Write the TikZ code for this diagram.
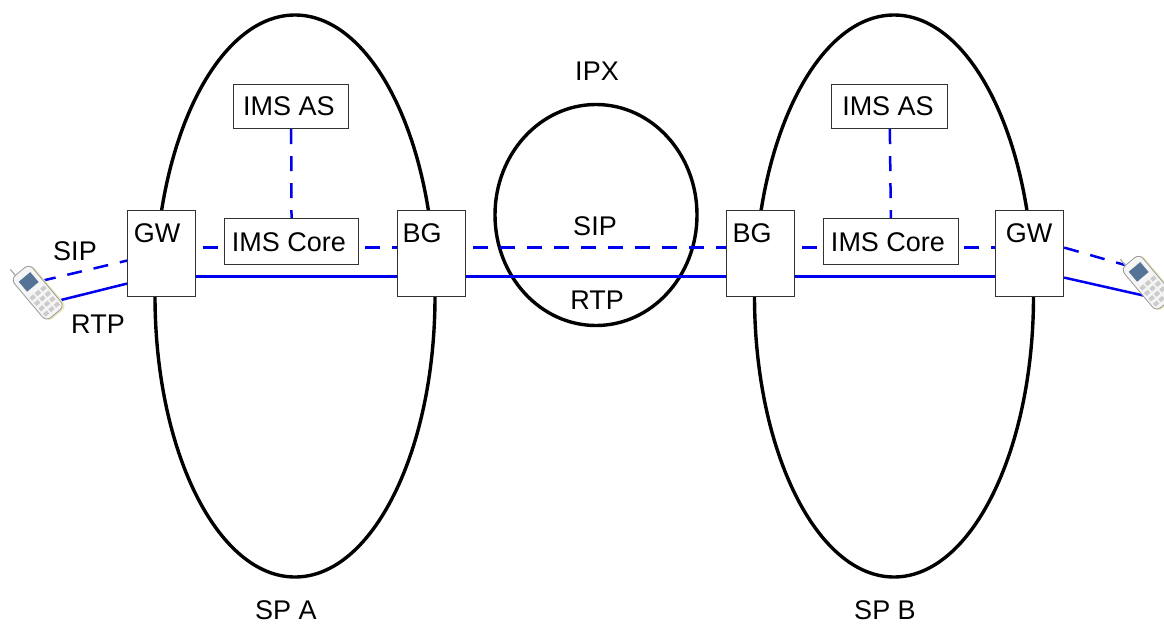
\documentclass[tikz,border=0pt]{standalone}
\usepackage{fontspec}
\setmainfont{Liberation Sans}
\usetikzlibrary{shapes.geometric,backgrounds,calc}
\definecolor{sigblue}{RGB}{0,0,240}
\definecolor{boxline}{RGB}{50,50,50}
\definecolor{phonescreen}{RGB}{85,115,150}
\tikzset{
  x=1pt,y=-1pt,
  spdomain/.style={draw=black,line width=3.4pt,ellipse,inner sep=0pt,fill=none},
  netbox/.style={draw=boxline,line width=1.2pt,fill=white,inner sep=0pt,anchor=north west},
  tallbox/.style={netbox,minimum width=68pt,minimum height=86pt},
  lbl/.style={inner sep=0pt,font=\fontsize{27}{30}\selectfont,text=black},
  sigline/.style={draw=sigblue,line width=2.5pt,dash pattern=on 15pt off 12pt},
  sighoriz/.style={sigline,dash phase=20pt},
  medialine/.style={draw=sigblue,line width=2.5pt},
  phonebody/.style={draw=black!40,fill=black!4,line width=0.8pt},
  phonepart/.style={fill=black!20,draw=none},
}
\newcommand{\mobile}[3]{%
  \begin{scope}[shift={(#1,#2)},rotate=#3]
    \draw[black!35,line width=1.2pt] (-6,-27) -- (-6,-36);
    \fill[black!30!yellow!30!white,rounded corners=6pt] (-11,-27) rectangle (13.5,29);
    \draw[phonebody,rounded corners=6pt] (-12,-28) rectangle (12,27);
    \fill[phonescreen] (-7.5,-21) rectangle (7.5,-8);
    \foreach \px in {-7,0,7}{\foreach \py in {-2,5,12,19}{\fill[phonepart] (\px-2.5,\py) rectangle (\px+2.5,\py+4);}}
  \end{scope}}
\begin{document}
\begin{tikzpicture}
\useasboundingbox (0,0) rectangle (1164,624);
\clip (0,0) rectangle (1164,624);
% boxes
\node[tallbox] (gwA) at (127,210) {};
\node[tallbox] (bgA) at (397,210) {};
\node[tallbox] (bgB) at (726,210) {};
\node[tallbox] (gwB) at (995,210) {};
\node[netbox,minimum width=134pt,minimum height=46pt] (coreA) at (224,218) {};
\node[netbox,minimum width=135pt,minimum height=46pt] (coreB) at (823,218) {};
\node[netbox,minimum width=115pt,minimum height=44pt] (asA) at (233,84) {};
\node[netbox,minimum width=116pt,minimum height=44pt] (asB) at (831,84) {};
% domains
\begin{pgfonlayer}{background}
\node[spdomain,minimum width=280pt,minimum height=562pt] (spA) at (295,296) {};
\node[spdomain,minimum width=279pt,minimum height=562pt] (spB) at (894,296) {};
\node[spdomain,minimum width=202pt,minimum height=221pt] (ipx) at (596,215) {};
\end{pgfonlayer}
% labels
\node[lbl] (tGwA) at (157,233) {GW};
\node[lbl] (tBgA) at (422,233) {BG};
\node[lbl] (tBgB) at (752,233) {BG};
\node[lbl] (tGwB) at (1029,233) {GW};
\node[lbl] (tCoreA) at (289,242) {IMS Core};
\node[lbl] (tCoreB) at (888,242) {IMS Core};
\node[lbl] (tAsA) at (289,106) {IMS AS};
\node[lbl] (tAsB) at (888,106) {IMS AS};
\node[lbl] (tIpx) at (597,71) {IPX};
\node[lbl] (tSip) at (595,226) {SIP};
\node[lbl] (tRtp) at (597,300) {RTP};
\node[lbl] (tSpA) at (286,610) {SP A};
\node[lbl] (tSpB) at (885,610) {SP B};
\node[lbl] (tSipL) at (75,251) {SIP};
\node[lbl] (tRtpL) at (98,324) {RTP};
% phones
\mobile{38}{293}{40}
\mobile{1148}{283}{40}
\coordinate (phLsip) at (41,281);
\coordinate (phLrtp) at (61,300);
\coordinate (phRsip) at (1125,265);
\coordinate (phRrtp) at (1150,297);
\begin{pgfonlayer}{background}
  \draw[sigline] (asA) -- (coreA);
  \draw[sigline] (asB) -- (coreB);
  \draw[sighoriz] ([yshift=6pt]gwA.east) -- ([yshift=6pt]bgA.west);
  \draw[sighoriz] ([yshift=6pt]bgA.east) -- ([yshift=6pt]bgB.west);
  \draw[sighoriz] ([yshift=6pt]bgB.east) -- ([yshift=6pt]gwB.west);
  \draw[medialine] ([yshift=-23pt]gwA.east) -- ([yshift=-23pt]bgA.west);
  \draw[medialine] ([yshift=-23pt]bgA.east) -- ([yshift=-23pt]bgB.west);
  \draw[medialine] ([yshift=-23pt]bgB.east) -- ([yshift=-23pt]gwB.west);
  \draw[sigline] (phLsip) -- ([yshift=-7pt]gwA.west);
  \draw[medialine] (phLrtp) -- ([yshift=-30pt]gwA.west);
  \draw[sigline] ([yshift=6pt]gwB.east) -- (phRsip);
  \draw[medialine] ([yshift=-24pt]gwB.east) -- (phRrtp);
\end{pgfonlayer}
\end{tikzpicture}
\end{document}
